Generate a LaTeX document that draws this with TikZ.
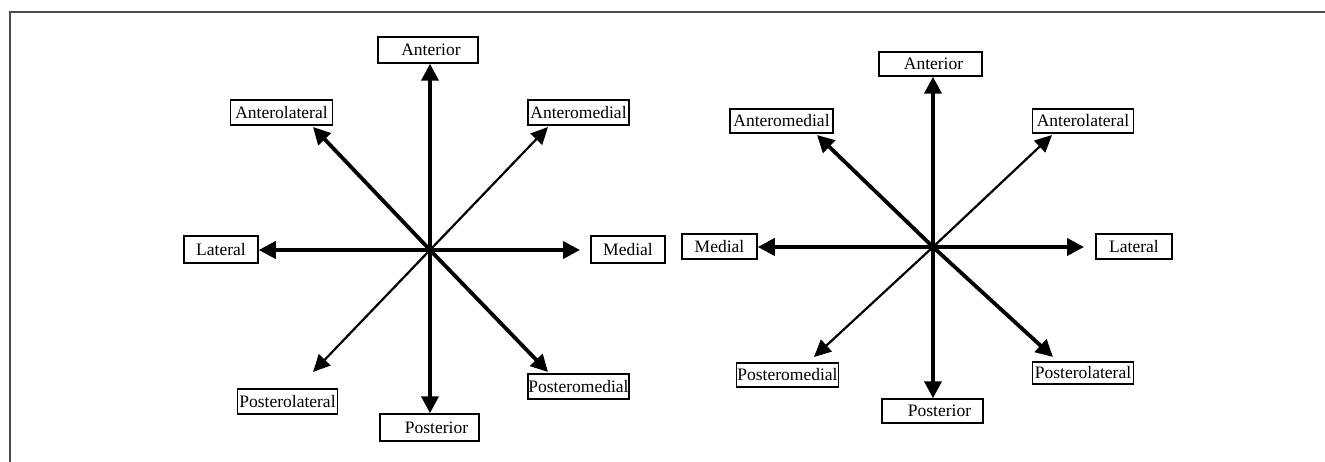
\documentclass[tikz,border=0pt]{standalone}
\usepackage{fontspec}
\setmainfont{Liberation Serif}
\usetikzlibrary{arrows.meta}
\tikzset{
  lbl/.style={draw, line width=1.5pt, inner sep=0pt, minimum height=25pt,
    font=\fontsize{17.5}{19}\selectfont},
  bigarr/.style={-{Triangle[length=17pt,width=17pt]}, line width=3.8pt},
  thinarr/.style={-{Triangle[length=17pt,width=16pt]}, line width=2.2pt},
  frame/.style={draw=black!70, line width=1.6pt}
}
\begin{document}
\begin{tikzpicture}[x=1pt,y=-1pt]
\useasboundingbox (0,0) rectangle (1325,462);
\draw[frame] (1325,12) -- (10,12) -- (10,462);

% ---------- left diagram ----------
\coordinate (lc) at (430,250);
\node[lbl, minimum width=100pt, minimum height=26pt] (lant) at (428,50) {\hspace*{6pt}Anterior};
\node[lbl, minimum width=102pt] (lalat) at (281.5,112.5) {Anterolateral};
\node[lbl, minimum width=101pt] (lamed) at (578.5,112.5) {Anteromedial};
\node[lbl, minimum width=74pt, minimum height=27pt] (llat) at (221,249.5) {Lateral};
\node[lbl, minimum width=74pt, minimum height=27pt] (lmed) at (628,249.5) {Medial};
\node[lbl, minimum width=100pt] (lplat) at (287.5,401.5) {Posterolateral};
\node[lbl, minimum width=99pt, minimum height=27pt] (lpost) at (429.5,427.5) {\hspace*{14pt}Posterior};
\node[lbl, minimum width=101pt] (lpmed) at (578.5,386.5) {Posteromedial};

\coordinate (lt-alat) at (313,127);
\coordinate (lt-amed) at (548,127);
\coordinate (lt-plat) at (313,372);
\coordinate (lt-pmed) at (548,372);
\coordinate (lt-med) at (580,250);

\draw[bigarr] (lc) -- (lc |- lant.south);
\draw[bigarr] (lc) -- (lc |- lpost.north);
\draw[bigarr] (lc) -- (lc -| llat.east);
\draw[bigarr] (lc) -- (lt-med);
\draw[bigarr] (lc) -- (lt-alat);
\draw[bigarr] (lc) -- (lt-pmed);
\draw[thinarr] (lc) -- (lt-amed);
\draw[thinarr] (lc) -- (lt-plat);

% ---------- right diagram ----------
\coordinate (rc) at (933,247);
\node[lbl, minimum width=103pt, minimum height=24pt] (rant) at (930.5,64) {\hspace*{6pt}Anterior};
\node[lbl, minimum width=103pt, minimum height=24pt] (ramed) at (781.5,121) {Anteromedial};
\node[lbl, minimum width=101pt, minimum height=24pt] (ralat) at (1083,121) {Anterolateral};
\node[lbl, minimum width=75pt] (rmed) at (719.5,246.5) {Medial};
\node[lbl, minimum width=76pt] (rlat) at (1134,246.5) {Lateral};
\node[lbl, minimum width=102pt, minimum height=24pt] (rpmed) at (787.5,375) {Posteromedial};
\node[lbl, minimum width=101pt, minimum height=24pt] (rpost) at (932.5,411) {\hspace*{14pt}Posterior};
\node[lbl, minimum width=101pt, minimum height=22pt] (rplat) at (1083,373) {Posterolateral};

\coordinate (rt-amed) at (817,135);
\coordinate (rt-alat) at (1052,135);
\coordinate (rt-pmed) at (814,357);
\coordinate (rt-plat) at (1053,357);
\coordinate (rt-lat) at (1084,247);

\draw[bigarr] (rc) -- (rc |- rant.south);
\draw[bigarr] (rc) -- (rc |- rpost.north);
\draw[bigarr] (rc) -- (rc -| rmed.east);
\draw[bigarr] (rc) -- (rt-lat);
\draw[bigarr] (rc) -- (rt-amed);
\draw[bigarr] (rc) -- (rt-plat);
\draw[thinarr] (rc) -- (rt-alat);
\draw[thinarr] (rc) -- (rt-pmed);
\end{tikzpicture}
\end{document}
